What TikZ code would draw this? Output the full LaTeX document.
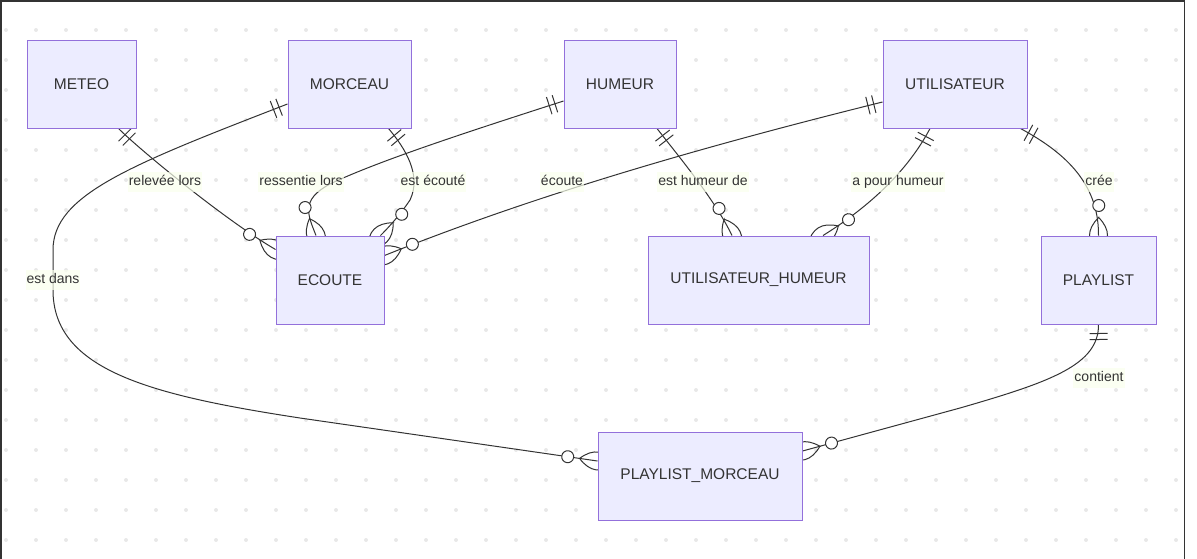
\documentclass[tikz,border=0pt]{standalone}
\usepackage{fontspec}
\setmainfont{Liberation Sans}
\usetikzlibrary{calc,decorations.markings}

\definecolor{entfill}{HTML}{ECECFF}
\definecolor{entline}{HTML}{9370DB}
\definecolor{txtcol}{HTML}{333333}
\definecolor{relline}{HTML}{333333}
\definecolor{lblbg}{HTML}{F9FFEC}
\definecolor{dotcol}{HTML}{E8E8E8}

\pgfdeclarelayer{bg}
\pgfdeclarelayer{edges}
\pgfsetlayers{bg,edges,main}

\tikzset{
  entity/.style={draw=entline, fill=entfill, line width=1pt, minimum height=88pt,
    inner sep=0pt, text=txtcol, font=\fontsize{15.5}{18}\selectfont},
  lbl/.style={fill=lblbg, fill opacity=0.7, text opacity=1, text=txtcol,
    font=\fontsize{14}{16}\selectfont, inner xsep=1pt, inner ysep=3pt,
    text height=10.5pt, text depth=3pt},
  rel/.style={draw=relline, line width=1pt, postaction={decorate},
    decoration={markings,
      % one side: two bars
      mark=at position 0 with {\draw[relline,line width=1pt] (9,-9) -- (9,9) (15,-9) -- (15,9);},
      % many side: circle and crow foot
      mark=at position 0.9999 with {
        \draw[relline,line width=1pt] (-18,0) .. controls (-6,12) and (6,12) .. (18,0)
          .. controls (6,-12) and (-6,-12) .. cycle;
        \draw[relline,line width=1pt,fill=white] (-30,0) circle[radius=6];}}},
}

\begin{document}
\begin{tikzpicture}[x=1pt,y=-1pt,line cap=round]
    \useasboundingbox (0,0) rectangle (1197,558);

    % dotted grid and frame
    \begin{pgfonlayer}{bg}
        \foreach \i in {0,...,39}
            \foreach \j in {1,...,18}
                \fill[dotcol] (6+30*\i,30*\j) circle[radius=2];
        \draw[txtcol,line width=1.5pt] (0.75,560) -- (0.75,0.75) -- (1184.5,0.75) -- (1184.5,560);
    \end{pgfonlayer}

    % entities
    \node[entity, minimum width=109pt] (meteo) at (81.5,84) {METEO};
    \node[entity, minimum width=123pt] (morceau) at (349.5,84) {MORCEAU};
    \node[entity, minimum width=112pt] (humeur) at (620,84) {HUMEUR};
    \node[entity, minimum width=144pt] (util) at (955,84) {UTILISATEUR};
    \node[entity, minimum width=108pt] (ecoute) at (330,280) {ECOUTE};
    \node[entity, minimum width=221pt] (uh) at (758.5,280) {UTILISATEUR\_HUMEUR};
    \node[entity, minimum width=115pt] (playlist) at (1098.5,280) {PLAYLIST};
    \node[entity, minimum width=204pt] (pm) at (700,476) {PLAYLIST\_MORCEAU};

    % relations
    \begin{pgfonlayer}{edges}
        \draw[rel] ($(meteo.south east)+(-18,0)$) .. controls (140,150) and (225,220) .. ($(ecoute.north west)+(0,14)$);
        \draw[rel] ($(humeur.west)+(0,17)$) .. controls (480,128) and (380,160) .. (330,184)
            .. controls (300,200) and (308,215) .. ($(ecoute.north)+(-14,0)$);
        \draw[rel] ($(morceau.south east)+(-23,0)$) .. controls (405,148) and (422,175) .. (410,200)
            .. controls (402,212) and (392,224) .. ($(ecoute.north east)+(-4,0)$);
        \draw[rel] ($(util.west)+(0,18)$) .. controls (750,135) and (560,185) .. ($(ecoute.north east)+(0,20)$);
        \draw[rel] ($(humeur.south)+(37,0)$) .. controls (680,158) and (715,200) .. ($(uh.north)+(-26.5,0)$);
        \draw[rel] ($(util.south)+(-25,0)$) .. controls (915,157) and (885,197) .. ($(uh.north)+(64.5,0)$);
        \draw[rel] ($(util.south east)+(-7,0)$) .. controls (1060,150) and (1099,180) .. (playlist.north);
        \draw[rel] ($(morceau.west)+(0,20)$) .. controls (130,165) and (53,195) .. (53,250) -- (53,290)
            .. controls (53,370) and (150,395) .. (300,418) -- ($(pm.west)+(0,-15)$);
        \draw[rel] (playlist.south) .. controls (1099,365) and (1050,382) .. (960,408) -- ($(pm.east)+(0,-25)$);
    \end{pgfonlayer}

    % relation labels
    \node[lbl] (releve) at (165,182) {relevée lors};
    \node[lbl] (ressentie) at (301,182) {ressentie lors};
    \node[lbl] (estecoute) at (433,182) {est écouté};
    \node[lbl] (ecoutelbl) at (562,182) {écoute};
    \node[lbl] (esthumeur) at (703,182) {est humeur de};
    \node[lbl] (apour) at (898,182) {a pour humeur};
    \node[lbl] (cree) at (1099,182) {crée};
    \node[lbl] (estdans) at (53,280) {est dans};
    \node[lbl] (contient) at (1099,378) {contient};
\end{tikzpicture}
\end{document}
